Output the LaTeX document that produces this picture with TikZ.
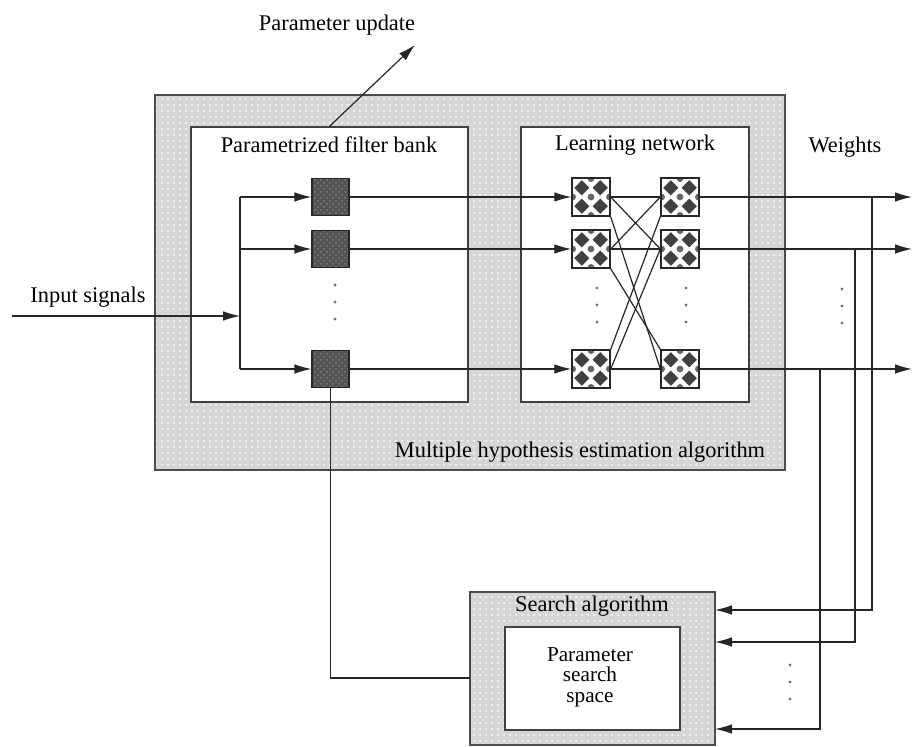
\documentclass[tikz,border=0pt]{standalone}
\usepackage{fontspec}
\setmainfont{Liberation Serif}
\usetikzlibrary{arrows.meta,patterns}

\begin{document}
\begin{tikzpicture}[x=0.5pt,y=-0.5pt,
  every node/.style={font=\fontsize{11.2}{12}\selectfont, inner sep=0pt},
  line/.style={draw=black!85, line width=0.6pt},
  arr/.style={line, -{Latex[length=8.5pt,width=4.8pt]}},
  shaded/.style={preaction={fill=gray!32}, pattern=dots, pattern color=white,
                 draw=black!70, line width=0.6pt},
  plain/.style={draw=black!75, line width=0.6pt, fill=white},
  filt/.style={preaction={fill=black!68}, pattern=crosshatch dots, pattern color=black!50,
               draw=black!85, line width=0.6pt, minimum size=18.5pt},
  lnet/.style={draw=black!85, line width=0.7pt, fill=white, minimum size=19pt,
               path picture={
                 \foreach \a in {-1,1} \foreach \b in {-1,1}
                   \fill[black!75] ([shift={(\a*4.6pt,\b*4.6pt)}]path picture bounding box.center)
                     +(0,3.8pt) -- +(3.8pt,0) -- +(0,-3.8pt) -- +(-3.8pt,0) -- cycle;
                 \foreach \a in {-1,0,1}
                   \fill[black!60] ([shift={(\a*9.2pt,0)}]path picture bounding box.center) circle (1.7pt);
                 \foreach \a in {-1,1}
                   \fill[black!60] ([shift={(0,\a*9.2pt)}]path picture bounding box.center) circle (1.7pt);
               }},
  vdot/.style={fill=black!55, circle, minimum size=1.6pt}
]
\useasboundingbox (0,0) rectangle (914,747);

% main estimation block
\node[shaded, minimum width=315pt, minimum height=187.5pt] (mh) at (470,282.5) {};
\node[plain, minimum width=138.5pt, minimum height=137.5pt] (fb) at (329.5,264.5) {};
\node[plain, minimum width=114pt, minimum height=137.5pt] (ln) at (635,264.5) {};

\node (fbl) at (329,145) {Parametrized filter bank};
\node (lnl) at (635,145) {Learning network};
\node (mhl) at (580,452) {Multiple hypothesis estimation algorithm};

% search block
\node[shaded, minimum width=122.5pt, minimum height=76.5pt] (sa) at (592.5,668.5) {};
\node[plain, minimum width=87.5pt, minimum height=51.5pt] (ss) at (592.5,678.5) {};
\node (sal) at (592,606) {Search algorithm};
\node[align=center, font=\fontsize{10.6}{10.2}\selectfont] (ssl) at (590,677) {Parameter\\search\\space};

% filters and learning units
\node[filt] (f1) at (330.5,197) {};
\node[filt] (f2) at (330.5,249) {};
\node[filt] (f3) at (330.5,369) {};
\node[lnet] (l1) at (591,197) {};
\node[lnet] (l2) at (591,249) {};
\node[lnet] (l3) at (591,369) {};
\node[lnet] (r1) at (680,197) {};
\node[lnet] (r2) at (680,249) {};
\node[lnet] (r3) at (680,369) {};

% input distribution
\coordinate (in) at (12,316);
\coordinate (sp) at (240,316);
\coordinate (b1) at (240,197);
\coordinate (b2) at (240,249);
\coordinate (b3) at (240,369);
\node (inl) at (88,297) {Input signals};
\draw[arr] (in) -- (sp);
\draw[line] (b1) -- (b3);
\draw[arr] (b1) -- (f1);
\draw[arr] (b2) -- (f2);
\draw[arr] (b3) -- (f3);

% filters to learning network
\draw[arr] (f1) -- (l1);
\draw[arr] (f2) -- (l2);
\draw[arr] (f3) -- (l3);
\draw[line] (l1) -- (r1);
\draw[line] (l2) -- (r2);
\draw[line] (l3) -- (r3);
\draw[line] (l1.east) -- (r2.west);
\draw[line] (l1.south east) -- (r3.west);
\draw[line] (l2.east) -- (r1.west);
\draw[line] (l2.south east) -- (r3.north west);
\draw[line] (l3.north east) -- (r1.south west);
\draw[line] (l3.east) -- (r2.west);

% outputs
\coordinate (o1) at (912,197);
\coordinate (o2) at (912,249);
\coordinate (o3) at (912,369);
\node (wl) at (845,147) {Weights};
\draw[arr] (r1) -- (o1);
\draw[arr] (r2) -- (o2);
\draw[arr] (r3) -- (o3);

% feedback to search algorithm
\coordinate (t1) at (872,197);
\coordinate (t2) at (855,249);
\coordinate (t3) at (820,369);
\coordinate (e1) at (715,610);
\coordinate (e2) at (715,642);
\coordinate (e3) at (715,729);
\draw[arr] (t1) |- (e1);
\draw[arr] (t2) |- (e2);
\draw[arr] (t3) |- (e3);

% search result back to the filter bank
\coordinate (w1) at (470,678);
\draw[line] (f3.south) |- (w1);

% parameter update
\coordinate (pu) at (415,45);
\draw[arr] (fb.north) -- (pu);
\node (pul) at (337,25) {Parameter update};

% ellipsis dots
\foreach \x/\y in {335/285, 597/288, 686/288, 842/289, 790/665}
  \foreach \k in {0,17,34}
    \node[vdot] at (\x,\y+\k) {};
\end{tikzpicture}
\end{document}
